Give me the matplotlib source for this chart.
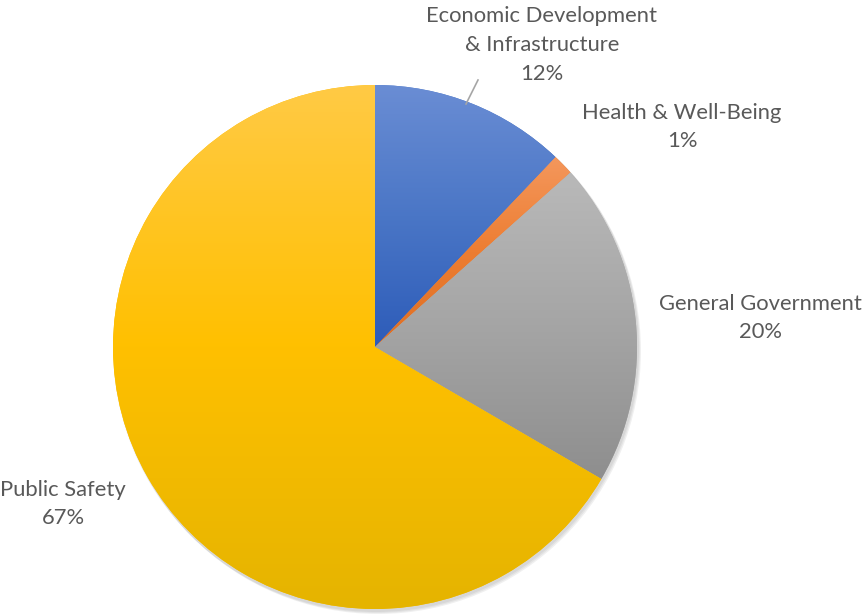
import matplotlib
matplotlib.use("Agg")
import matplotlib.pyplot as plt
import numpy as np
from matplotlib.colors import LinearSegmentedColormap
from matplotlib.patches import Circle

# ------------------------------------------------------------
# dados
# ------------------------------------------------------------
categorias = ["Economic Development\n& Infrastructure", "Health & Well-Being",
              "General Government", "Public Safety"]
valores = [12.1, 1.3, 20.0, 66.6]
# gradiente (topo, meio, base) de cada fatia
cores_topo = ["#6A8DD4", "#F4975C", "#B9B9B9", "#FFCA45"]
cores_meio = ["#4A76C6", "#ED7D31", "#A5A5A5", "#FFC000"]
cores_base = ["#2D5CB9", "#DE6F24", "#8E8E8E", "#E5B400"]

# posicao dos rotulos (em pixels da figura, origem em baixo)
rotulos_xy = [(542, 569), (682, 487), (760, 296), (63, 110)]

W, H = 865, 614
fig = plt.figure(figsize=(W / 100, H / 100), dpi=100)
ax = fig.add_axes([0, 0, 1, 1])

centro = (375, 267)
raio = 262

# sombra leve
for i, a in enumerate([0.05, 0.05, 0.06]):
    ax.add_patch(Circle((centro[0] + 1 + i, centro[1] - 2 - i), raio + 1,
                        color="black", alpha=a, lw=0, zorder=0))

wedges, _ = ax.pie(valores, startangle=90, counterclock=False, center=centro,
                   radius=raio, frame=True,
                   wedgeprops=dict(linewidth=0, edgecolor="none"))

grad = np.linspace(0, 1, 256).reshape(-1, 1)
for w, c1, c2, c3 in zip(wedges, cores_topo, cores_meio, cores_base):
    w.set_facecolor(c2)
    bb = w.get_path().get_extents(w.get_patch_transform())
    cmap = LinearSegmentedColormap.from_list("g", [c3, c2, c1])
    im = ax.imshow(grad, cmap=cmap, origin="lower", aspect="auto",
                   extent=[bb.x0, bb.x1, bb.y0, bb.y1], zorder=2)
    im.set_clip_path(w)

ax.set_xlim(0, W)
ax.set_ylim(0, H)
ax.set_aspect("equal")
ax.axis("off")

# linha guia do primeiro rotulo
ax.plot([478, 466], [534, 510], color="#A6A6A6", lw=1.2, zorder=3)

total = sum(valores)
for nome, v, (x, y) in zip(categorias, valores, rotulos_xy):
    ax.text(x, y, f"{nome}\n{round(v / total * 100):.0f}%", ha="center", va="center",
            fontsize=15.8, color="#595959", family="Lato", linespacing=1.55)

plt.savefig("out.png", dpi=100)
